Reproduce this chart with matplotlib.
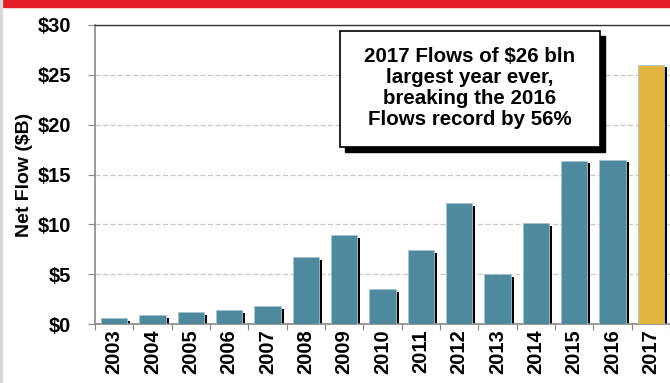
import numpy as np
import matplotlib.pyplot as plt
from matplotlib.patches import Rectangle

plt.rcParams['font.family'] = ['Liberation Sans', 'DejaVu Sans']

years = ['2003', '2004', '2005', '2006', '2007', '2008', '2009', '2010',
         '2011', '2012', '2013', '2014', '2015', '2016', '2017']
flows = [0.6, 0.9, 1.2, 1.4, 1.8, 6.7, 8.9, 3.5, 7.4, 12.1, 5.0, 10.1, 16.4, 16.5, 26.0]
yticks = [0, 5, 10, 15, 20, 25, 30]
ytick_labels = ['$0', '$5', '$10', '$15', '$20', '$25', '$30']
note = ['2017 Flows of \\$26 bln', 'largest year ever,',
        'breaking the 2016', 'Flows record by 56%']

teal = '#4F899D'
gold = '#E2B540'
colors = [teal] * (len(years) - 1) + [gold]

fig = plt.figure(figsize=(6.7, 3.83), dpi=100)
W, H = 670, 383

# red band on top
fig.patches.append(Rectangle((0, 1 - 7 / H), 1, 7 / H, transform=fig.transFigure,
                             color='#E31D25', zorder=0))
fig.patches.append(Rectangle((0, 0), 1.5 / W, 1, transform=fig.transFigure,
                             color='#D8D8D8', zorder=0))

ax = fig.add_axes([95 / W, 1 - 324 / H, 575 / W, 299 / H])
x = np.arange(len(years))
w = 0.68

# drop shadows
ax.bar(x + 0.08, np.array(flows) - 0.25, width=w, color='black', zorder=2)
ax.bar(x, flows, width=w, color=colors, edgecolor='#A9C3CC', linewidth=0.6, zorder=3)

ax.set_xlim(-0.5, len(years) - 0.5)
ax.set_ylim(0, 30)
ax.set_yticks(yticks)
ax.set_yticklabels(ytick_labels, fontsize=14.5, fontweight='bold')
ax.yaxis.grid(True, linestyle=(0, (4, 2)), color='#C8C8C8', linewidth=0.9, zorder=0)
ax.set_axisbelow(True)

ax.set_xticks(np.arange(len(years) + 1) - 0.5)
ax.set_xticklabels([])
ax.set_xticks(x, minor=True)
ax.set_xticklabels(years, minor=True, rotation=90, fontsize=14.5, fontweight='bold')
ax.tick_params(axis='x', which='major', length=4, color='#888888', direction='out')
ax.tick_params(axis='x', which='minor', length=0, pad=4)
ax.tick_params(axis='y', length=5, color='#888888', pad=12)

ax.set_ylabel('Net Flow ($B)', fontsize=14, fontweight='bold')
ax.yaxis.set_label_coords(-0.108, 0.5)

for s in ['left', 'bottom']:
    ax.spines[s].set_color('#888888')
    ax.spines[s].set_linewidth(1.2)
ax.spines['top'].set_color('#333333')
ax.spines['top'].set_linewidth(1.0)
ax.spines['right'].set_visible(False)

# callout box with shadow
bx, by, bw, bh = 340 / W, 1 - 147 / H, 260 / W, 116 / H
fig.patches.append(Rectangle((bx + 5 / W, by - 5 / H), bw, bh, transform=fig.transFigure,
                             facecolor='black', edgecolor='black', zorder=5))
fig.patches.append(Rectangle((bx, by), bw, bh, transform=fig.transFigure,
                             facecolor='white', edgecolor='black', linewidth=1.2, zorder=6))
fig.text(470 / W, 1 - 88 / H, '\n'.join(note), ha='center', va='center',
         fontsize=14.8, fontweight='bold', linespacing=1.15, zorder=7)

fig.savefig('out.png', dpi=100)
